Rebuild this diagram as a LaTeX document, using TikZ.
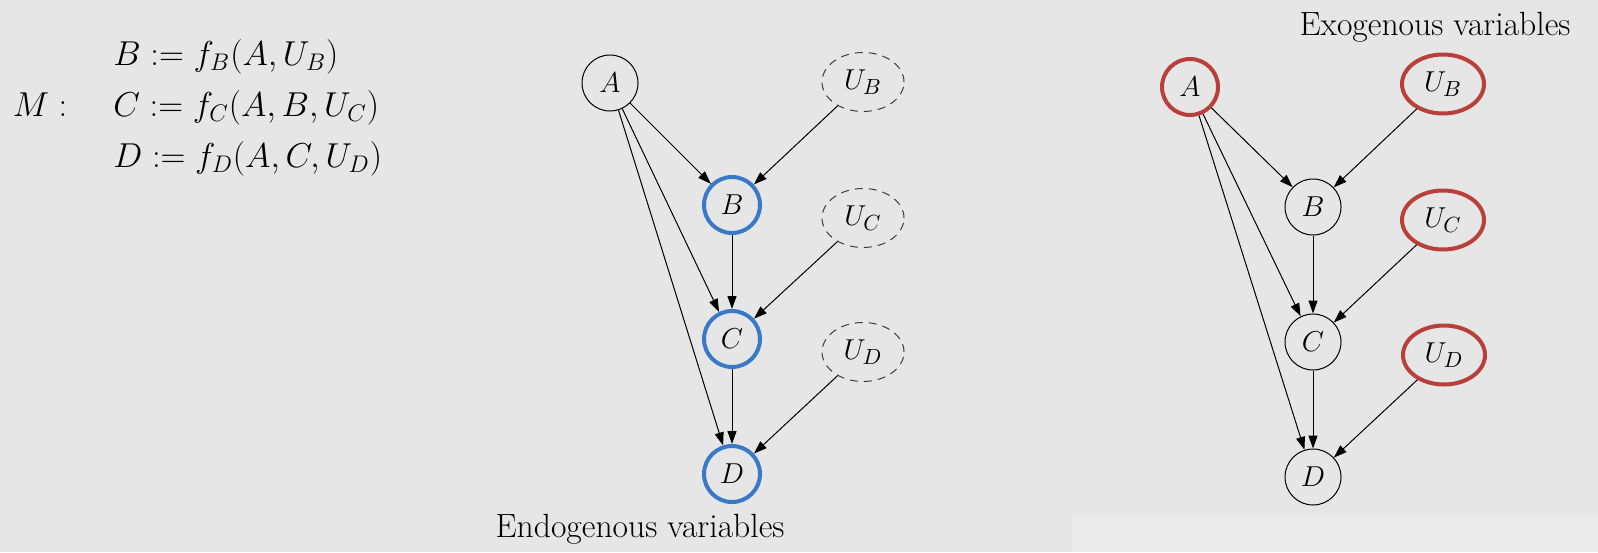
\documentclass[tikz,border=0pt]{standalone}
\usepackage{amssymb, amsmath}
\usepackage{xcolor}
\usepackage{tikz}
\usetikzlibrary{arrows.meta,matrix}
\usetikzlibrary{shapes.geometric}

\definecolor{bggray}{RGB}{230,230,230}
\definecolor{bgpale}{RGB}{234,234,234}
\definecolor{endoblue}{RGB}{58,120,200}
\definecolor{exored}{RGB}{185,64,58}
\definecolor{dashgray}{RGB}{60,60,60}

\newcommand{\nodefont}{\fontsize{15}{18}\selectfont}
\newcommand{\eqfont}{\fontsize{17.5}{21}\selectfont}

\tikzset{
  var/.style = {circle, draw, line width = 0.5pt, minimum size = 28pt, inner sep = 0pt, font = \nodefont},
  noise/.style = {ellipse, draw, line width = 0.5pt, minimum width = 41pt, minimum height = 29.5pt, inner sep = 0pt, font = \nodefont},
  hidden/.style = {dash pattern = on 4pt off 3pt, draw = dashgray},
  endo/.style = {draw = endoblue, line width = 2pt},
  exo/.style = {draw = exored, line width = 2pt},
  edge/.style = {-{Triangle[length = 6.5pt, width = 4.5pt]}, line width = 0.5pt},
  caption/.style = {font = \fontsize{16.8}{20}\selectfont}
}

\begin{document}
\begin{tikzpicture}[x = 0.5pt, y = -0.5pt]

\fill[bggray] (0,0) rectangle (1598,552);
\fill[bgpale] (1072,516) rectangle (1598,552);
\useasboundingbox (0,0) rectangle (1598,552);

\matrix (eqs)
[matrix of math nodes,
 matrix anchor = north west,
 ampersand replacement = \&,
 inner sep = 0pt,
 column sep = 23pt,
 row sep = 8pt,
 nodes = {anchor = base west, inner sep = 0pt, text height = 13pt, text depth = 4.5pt, font = \eqfont}]
at (12,39)
{
      \& B := f_B(A, U_B) \\
M :   \& C := f_C(A, B, U_C) \\
      \& D := f_D(A, C, U_D) \\
};

% endogenous
\node[var] (A1) at (610,83) {$A$};
\node[noise, hidden] (UB1) at (863,82) {$U_B$};
\node[var, endo] (B1) at (732,205) {$B$};
\node[noise, hidden] (UC1) at (863,218) {$U_C$};
\node[var, endo] (C1) at (732,339) {$C$};
\node[noise, hidden] (UD1) at (863,352) {$U_D$};
\node[var, endo] (D1) at (732,474) {$D$};

\draw[edge] (A1) to (B1);
\draw[edge] (A1) to (C1);
\draw[edge] (A1) to (D1);
\draw[edge] (B1) to (C1);
\draw[edge] (C1) to (D1);
\draw[edge] (UB1) to (B1);
\draw[edge] (UC1) to (C1);
\draw[edge] (UD1) to (D1);

\node[caption, anchor = base] (endolabel) at (640,537) {Endogenous variables};

% exogenous
\node[var, exo] (A2) at (1190,87) {$A$};
\node[noise, exo] (UB2) at (1443,84) {$U_B$};
\node[var] (B2) at (1313,207) {$B$};
\node[noise, exo] (UC2) at (1443,220) {$U_C$};
\node[var] (C2) at (1313,342) {$C$};
\node[noise, exo] (UD2) at (1444,355) {$U_D$};
\node[var] (D2) at (1313,477) {$D$};

\draw[edge] (A2) to (B2);
\draw[edge] (A2) to (C2);
\draw[edge] (A2) to (D2);
\draw[edge] (B2) to (C2);
\draw[edge] (C2) to (D2);
\draw[edge] (UB2) to (B2);
\draw[edge] (UC2) to (C2);
\draw[edge] (UD2) to (D2);

\node[caption, anchor = base] (exolabel) at (1435,35) {Exogenous variables};

\end{tikzpicture}
\end{document}
